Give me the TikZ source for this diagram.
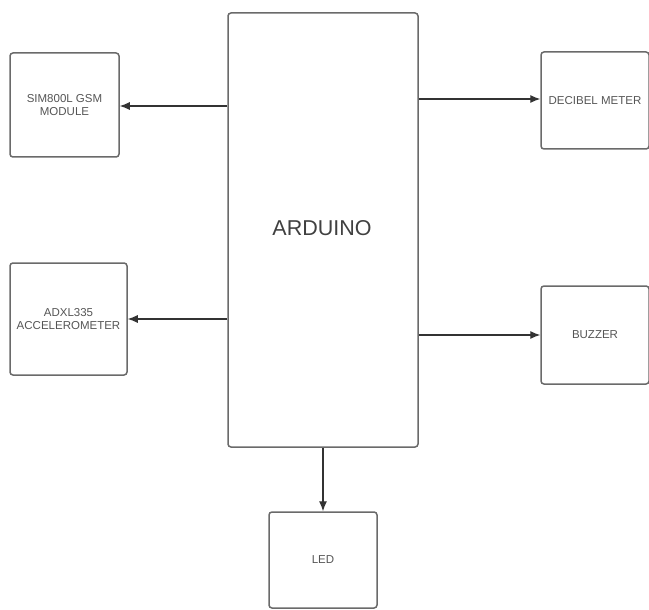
\documentclass[tikz,border=0pt]{standalone}
\usepackage{fontspec}
\setmainfont{Liberation Sans}
\usetikzlibrary{arrows.meta}
\definecolor{boxline}{HTML}{6A6A6A}
\definecolor{txt}{HTML}{555555}
\tikzset{
  blk/.style={draw=boxline, line width=1.5pt, rounded corners=3pt, inner sep=0pt, text=txt, align=center, font=\fontsize{11.5}{13}\selectfont},
  conn/.style={draw=black!80, line width=1.1pt, -{Latex[length=10pt,width=8pt]}}
}
\begin{document}
\begin{tikzpicture}[x=1pt,y=-1pt]
\useasboundingbox (0,0) rectangle (649,610);
\node[blk, minimum width=190pt, minimum height=434pt] (ard) at (323,230) {};
\node[text=black!75, font=\fontsize{21.5}{24}\selectfont, inner sep=0pt] (ardt) at (322,228) {ARDUINO};
\node[blk, minimum width=109pt, minimum height=104pt] (sim) at (64.5,105) {SIM800L GSM\\MODULE};
\node[blk, minimum width=117pt, minimum height=112pt] (adx) at (68.5,319) {ADXL335\\ACCELEROMETER};
\node[blk, minimum width=108pt, minimum height=97pt] (dec) at (595,100.5) {DECIBEL METER};
\node[blk, minimum width=108pt, minimum height=98pt] (buz) at (595,335) {BUZZER};
\node[blk, minimum width=108pt, minimum height=96pt] (led) at (323,560) {LED};
\draw[conn] (ard.west |- 0,106) -- (sim.east |- 0,106);
\draw[conn] (ard.west |- 0,319) -- (adx.east |- 0,319);
\draw[conn] (ard.east |- 0,99) -- (dec.west |- 0,99);
\draw[conn] (ard.east |- 0,335) -- (buz.west |- 0,335);
\draw[conn] (ard.south) -- (led.north);
\end{tikzpicture}
\end{document}
